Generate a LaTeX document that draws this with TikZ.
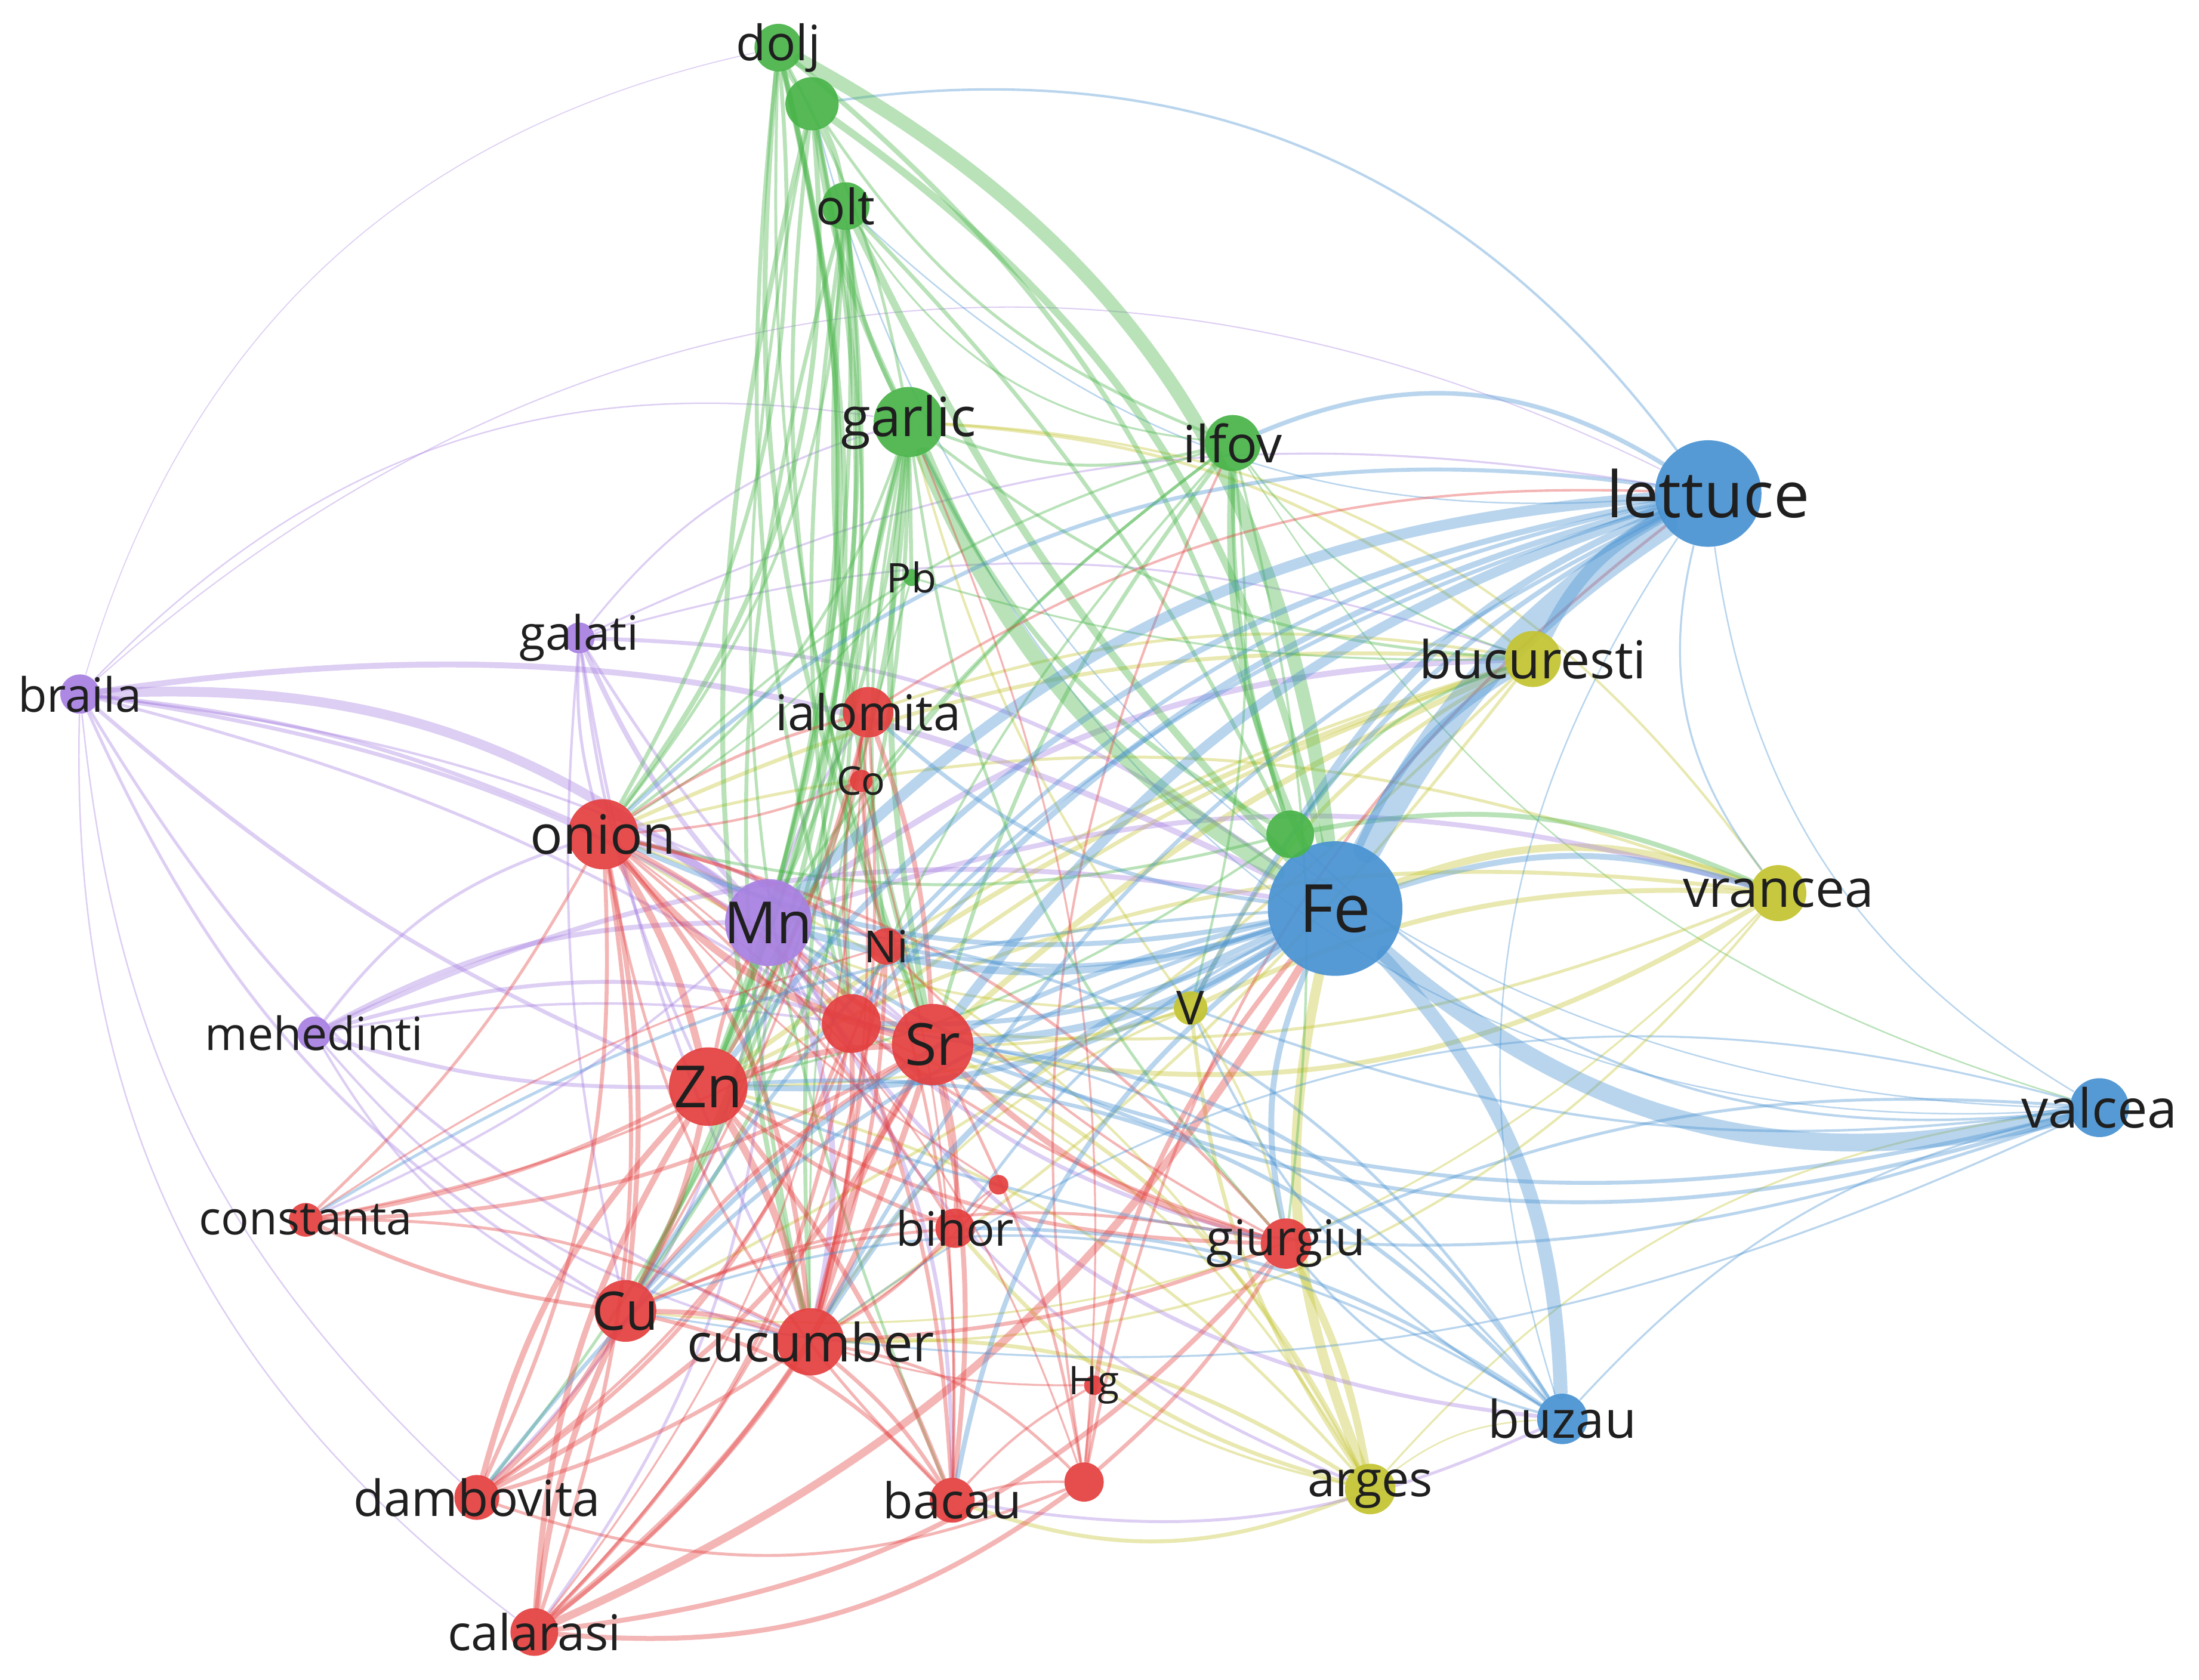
\documentclass[tikz,border=0pt]{standalone}
\usepackage{fontspec}
\setmainfont{Open Sans}
\usetikzlibrary{backgrounds}
\definecolor{vred}{RGB}{228,62,62}
\definecolor{vgreen}{RGB}{72,180,72}
\definecolor{vblue}{RGB}{72,146,210}
\definecolor{vyellow}{RGB}{196,196,48}
\definecolor{vpurple}{RGB}{168,128,226}
\newcommand{\fsz}[1]{\fontsize{#1}{#1}\selectfont}

\begin{document}
\begin{tikzpicture}[
    dot/.style={circle, inner sep=0pt, draw=none, fill opacity=0.92},
    lab/.style={inner sep=0pt, text=black!88, text opacity=1},
    link/.style={draw opacity=0.38, line cap=round}
]
    \def \bendScale {1.7}
    \useasboundingbox (0,0) rectangle (15.68,-11.98);
    \foreach \n/\x/\y/\d/\c in {
        lettuce/12.18/-3.52/7.6/vblue, Fe/9.52/-6.48/9.6/vblue,
        valcea/14.97/-7.90/4.2/vblue, buzau/11.14/-10.12/3.6/vblue,
        bucuresti/10.93/-4.70/4.0/vyellow, vrancea/12.68/-6.37/4.0/vyellow,
        V/8.49/-7.19/2.4/vyellow, arges/9.77/-10.62/3.6/vyellow,
        dolj/5.55/-0.34/3.4/vgreen, doljB/5.79/-0.74/3.8/vgreen,
        olt/6.03/-1.47/3.4/vgreen, garlic/6.48/-3.01/5.0/vgreen,
        ilfov/8.79/-3.16/4.0/vgreen, Pb/6.50/-4.12/1.2/vgreen,
        gX/9.20/-5.95/3.4/vgreen,
        galati/4.13/-4.55/2.2/vpurple, braila/0.57/-4.95/2.8/vpurple,
        Mn/5.48/-6.58/6.2/vpurple, mehedinti/2.24/-7.37/2.4/vpurple,
        ialomita/6.19/-5.08/3.6/vred, Co/6.14/-5.57/1.6/vred,
        onion/4.30/-5.95/5.0/vred, Ni/6.32/-6.75/2.6/vred,
        rX/6.07/-7.30/4.2/vred, Sr/6.65/-7.45/5.8/vred,
        Zn/5.05/-7.75/5.6/vred, rS/7.12/-8.45/1.4/vred,
        constanta/2.18/-8.70/2.4/vred, bihor/6.81/-8.76/2.8/vred,
        giurgiu/9.17/-8.87/3.6/vred, Cu/4.46/-9.35/4.4/vred,
        cucumber/5.78/-9.57/4.8/vred, Hg/7.80/-9.88/1.4/vred,
        dambovita/3.40/-10.68/3.2/vred, bacau/6.79/-10.70/3.2/vred,
        rH/7.73/-10.57/2.8/vred, calarasi/3.81/-11.64/3.4/vred}
        \node[dot, fill=\c, minimum size=\d mm] (\n) at (\x,\y) {};
    \foreach \n/\s/\t in {
        lettuce/13/lettuce, Fe/13.5/Fe, valcea/10.9/valcea, buzau/10.5/buzau,
        bucuresti/10.6/bucuresti, vrancea/10.6/vrancea, V/9.5/V, arges/10/arges,
        dolj/9.9/dolj, olt/9.9/olt, garlic/11/garlic, ilfov/10.4/ilfov,
        Pb/8.3/Pb, galati/9.6/galati, braila/9.6/braila, Mn/11.8/Mn,
        mehedinti/9.3/mehedinti, ialomita/10/ialomita, Co/8/Co, onion/11/onion,
        Ni/9/Ni, Sr/11.8/Sr, Zn/11.8/Zn, constanta/9.4/constanta, bihor/9.6/bihor,
        giurgiu/10/giurgiu, Cu/10.8/Cu, cucumber/10.7/cucumber, Hg/8/Hg,
        dambovita/10.1/dambovita, bacau/10/bacau, calarasi/10/calarasi}
        \node[lab, font=\fsz{\s}] (\n-t) at (\n) {\t};
    \begin{scope}[on background layer]
    \fill[white] (0,0) rectangle (15.68,-11.98);
    \foreach \a/\b/\w/\c/\d in {
        braila/lettuce/0.25/vpurple/20, braila/dolj/0.2/vpurple/18, braila/garlic/0.3/vpurple/16,
        doljB/lettuce/0.5/vblue/18, valcea/doljB/0.3/vblue/22, valcea/garlic/0.3/vblue/20,
        lettuce/olt/0.3/vblue/14, ilfov/valcea/0.3/vgreen/-12, lettuce/valcea/0.3/vblue/-15,
        braila/calarasi/0.3/vpurple/-16, braila/dambovita/0.3/vpurple/-12, arges/buzau/0.3/vyellow/10,
        Fe/arges/2/vyellow/-10, giurgiu/arges/1.5/vyellow/5, V/vrancea/1/vyellow/8,
        V/bucuresti/0.8/vyellow/10, V/arges/0.8/vyellow/-8, V/giurgiu/0.5/vyellow/6,
        V/Sr/0.6/vyellow/5, V/Zn/0.5/vyellow/5, V/onion/0.5/vyellow/10,
        V/cucumber/0.5/vyellow/-10, V/garlic/0.5/vyellow/6, vrancea/Fe/1.5/vyellow/-12,
        vrancea/Sr/1/vyellow/12, vrancea/Zn/0.8/vyellow/-10, vrancea/onion/0.6/vyellow/-10,
        vrancea/rX/0.6/vyellow/8, vrancea/cucumber/0.5/vyellow/15, vrancea/garlic/0.5/vyellow/-15,
        vrancea/Cu/0.4/vyellow/15, bucuresti/Sr/1.2/vyellow/-5, bucuresti/Zn/1/vyellow/-5,
        bucuresti/onion/0.8/vyellow/-8, bucuresti/rX/0.8/vyellow/-5, bucuresti/garlic/0.6/vyellow/-10,
        bucuresti/cucumber/0.6/vyellow/5, bucuresti/Cu/0.6/vyellow/5, bucuresti/ialomita/0.6/vyellow/-8,
        bucuresti/Ni/0.6/vyellow/-4, arges/Sr/0.8/vyellow/-10, arges/Zn/0.6/vyellow/-10,
        arges/cucumber/0.8/vyellow/-10, arges/onion/0.5/vyellow/-12, arges/rX/0.5/vyellow/-10,
        arges/bacau/0.8/vyellow/12, arges/Hg/0.5/vyellow/5, arges/bihor/0.8/vyellow/10,
        arges/valcea/0.4/vyellow/12,
        braila/Mn/2/vpurple/12, braila/Fe/1.2/vpurple/10, braila/Sr/0.8/vpurple/8,
        braila/Zn/0.8/vpurple/-5, braila/onion/0.8/vpurple/5, braila/rX/0.6/vpurple/5,
        braila/Cu/0.6/vpurple/-10, braila/cucumber/0.6/vpurple/-10, braila/Ni/0.5/vpurple/6,
        galati/Mn/1/vpurple/-5, galati/Fe/0.8/vpurple/10, galati/Sr/0.6/vpurple/-5,
        galati/Zn/0.6/vpurple/-5, galati/onion/0.6/vpurple/-5, galati/Cu/0.5/vpurple/-5,
        galati/cucumber/0.6/vpurple/-5, galati/lettuce/0.4/vpurple/10, galati/garlic/0.4/vpurple/10,
        galati/bucuresti/0.4/vpurple/10, mehedinti/Mn/1/vpurple/8, mehedinti/Fe/1/vpurple/10,
        mehedinti/Sr/0.8/vpurple/10, mehedinti/Zn/0.8/vpurple/-5, mehedinti/onion/0.6/vpurple/10,
        mehedinti/Cu/0.5/vpurple/-10, mehedinti/rX/0.5/vpurple/5, mehedinti/cucumber/0.5/vpurple/-10,
        Mn/bucuresti/1.2/vpurple/10, Mn/vrancea/1/vpurple/10, Mn/buzau/0.8/vpurple/-15,
        Mn/giurgiu/0.8/vpurple/-10, Mn/arges/0.6/vpurple/-12, Mn/onion/1.5/vpurple/-8,
        Mn/cucumber/1.2/vpurple/10, Mn/calarasi/0.6/vpurple/10, Mn/dambovita/0.6/vpurple/10,
        Mn/bacau/0.8/vpurple/10, Mn/ialomita/0.6/vpurple/5, Mn/constanta/0.5/vpurple/5,
        buzau/bacau/0.6/vpurple/10,
        dolj/Fe/2.8/vgreen/16, doljB/Fe/1.5/vgreen/12, garlic/Fe/3.2/vgreen/-10,
        olt/Fe/1.5/vgreen/-5, ilfov/Fe/1.5/vgreen/-8, garlic/gX/1/vgreen/-10,
        dolj/gX/1/vgreen/10, olt/gX/0.8/vgreen/5, ilfov/gX/0.8/vgreen/-5,
        gX/vrancea/1/vgreen/10, gX/bucuresti/0.6/vgreen/10, gX/onion/0.6/vgreen/8,
        gX/Zn/0.5/vgreen/6, dolj/Sr/1/vgreen/-8, dolj/Zn/1.2/vgreen/10,
        dolj/Cu/1/vgreen/12, dolj/Mn/0.8/vgreen/8, dolj/rX/0.8/vgreen/-6,
        dolj/onion/0.8/vgreen/10, dolj/Ni/0.6/vgreen/-5, dolj/garlic/0.6/vgreen/5,
        doljB/garlic/1.2/vgreen/-5, doljB/olt/1/vgreen/5, doljB/dolj/0.8/vgreen/5,
        doljB/onion/1/vgreen/12, doljB/cucumber/1/vgreen/-8, doljB/Zn/0.8/vgreen/10,
        doljB/dambovita/0.6/vgreen/15, doljB/ilfov/0.6/vgreen/-10, doljB/Sr/0.8/vgreen/-8,
        doljB/bacau/0.6/vgreen/-10, olt/Sr/1.2/vgreen/-6, olt/Zn/1/vgreen/8,
        olt/Mn/0.8/vgreen/5, olt/Cu/0.8/vgreen/10, olt/garlic/0.8/vgreen/-6,
        olt/onion/0.6/vgreen/10, olt/rX/0.8/vgreen/-5, olt/cucumber/0.8/vgreen/-8,
        olt/ilfov/0.4/vgreen/-15, garlic/Sr/1.2/vgreen/-5, garlic/Zn/1/vgreen/8,
        garlic/Mn/0.8/vgreen/5, garlic/Cu/0.8/vgreen/10, garlic/onion/0.6/vgreen/10,
        garlic/rX/0.8/vgreen/-5, garlic/Ni/0.6/vgreen/-5, garlic/ialomita/0.6/vgreen/-5,
        garlic/Pb/0.8/vgreen/0, garlic/bucuresti/0.6/vgreen/-10, garlic/ilfov/0.6/vgreen/-10,
        garlic/cucumber/0.8/vgreen/-5, garlic/giurgiu/0.6/vgreen/-10, ilfov/Sr/0.8/vgreen/-6,
        ilfov/Zn/0.6/vgreen/-8, ilfov/Mn/0.6/vgreen/-5, ilfov/onion/0.5/vgreen/-8,
        ilfov/rX/0.5/vgreen/-5, ilfov/V/0.5/vgreen/6, ilfov/giurgiu/0.5/vgreen/6,
        ilfov/bucuresti/0.4/vgreen/-10, Pb/onion/0.4/vgreen/5, Pb/cucumber/0.4/vgreen/-5,
        Pb/bucuresti/0.4/vgreen/-5, ilfov/lettuce/0.9/vblue/16,
        Zn/onion/1.5/vred/-5, Zn/cucumber/1.5/vred/5, Zn/Cu/1.2/vred/5,
        Zn/Sr/1.2/vred/5, Zn/calarasi/1.2/vred/-8, Zn/dambovita/1.2/vred/-8,
        Zn/constanta/0.8/vred/5, Zn/bacau/1/vred/5, Zn/giurgiu/0.8/vred/-8,
        Zn/bihor/0.8/vred/-5, Zn/ialomita/0.8/vred/-5, Zn/Mn/0.8/vred/5,
        Sr/onion/1.5/vred/10, Sr/cucumber/1.5/vred/-5, Sr/calarasi/1.2/vred/10,
        Sr/dambovita/1/vred/10, Sr/bacau/1/vred/5, Sr/giurgiu/1.2/vred/-8,
        Sr/bihor/0.8/vred/5, Sr/ialomita/1/vred/-5, Sr/constanta/0.8/vred/8,
        Sr/Cu/0.8/vred/-5, Sr/Mn/1/vred/5, Sr/rH/0.6/vred/5,
        Cu/onion/1/vred/-5, Cu/cucumber/1/vred/5, Cu/dambovita/1.2/vred/5,
        Cu/calarasi/1.2/vred/-5, Cu/constanta/0.8/vred/5, Cu/bacau/0.8/vred/10,
        Cu/giurgiu/0.6/vred/10, Cu/ialomita/0.5/vred/-5, Cu/bihor/0.6/vred/5,
        rX/onion/1/vred/-5, rX/cucumber/1/vred/5, rX/calarasi/0.8/vred/10,
        rX/dambovita/0.8/vred/10, rX/bacau/0.8/vred/5, rX/ialomita/0.6/vred/5,
        rX/giurgiu/0.6/vred/-5, rX/constanta/0.5/vred/5, Ni/onion/0.8/vred/-5,
        Ni/cucumber/0.8/vred/5, Ni/calarasi/0.6/vred/10, Ni/dambovita/0.6/vred/10,
        Ni/bacau/0.6/vred/5, Ni/ialomita/0.6/vred/5, Ni/giurgiu/0.5/vred/-5,
        Co/onion/0.5/vred/5, Co/cucumber/0.5/vred/5, Co/ialomita/0.5/vred/5,
        Co/calarasi/0.4/vred/10, Co/bacau/0.4/vred/5, calarasi/Fe/1.6/vred/-10,
        calarasi/rH/1/vred/-12, calarasi/giurgiu/1/vred/-12, calarasi/onion/0.8/vred/-8,
        calarasi/cucumber/0.8/vred/-5, dambovita/onion/0.8/vred/-8, dambovita/cucumber/0.8/vred/-5,
        dambovita/rH/0.6/vred/-12, constanta/onion/0.6/vred/-5, constanta/cucumber/0.6/vred/8,
        constanta/Ni/0.4/vred/5, bacau/onion/0.6/vred/10, bacau/cucumber/0.8/vred/-5,
        bacau/rH/0.5/vred/5, bacau/Hg/0.5/vred/5, giurgiu/onion/0.6/vred/-10,
        giurgiu/cucumber/0.8/vred/5, giurgiu/rH/0.8/vred/5, bihor/onion/0.6/vred/-5,
        bihor/cucumber/0.6/vred/5, bihor/rS/0.4/vred/5, rH/cucumber/0.6/vred/-10,
        rH/onion/0.4/vred/-10, rH/garlic/0.4/vred/-8, rH/Fe/1/vred/10,
        rH/ilfov/0.5/vred/10, rH/lettuce/0.6/vred/12, Hg/cucumber/0.4/vred/5,
        rS/cucumber/0.4/vred/5, rS/onion/0.4/vred/5, ialomita/onion/0.6/vred/-5,
        ialomita/cucumber/0.6/vred/5, ialomita/lettuce/0.5/vred/10, onion/cucumber/1/vred/10,
        lettuce/Fe/5.8/vblue/-8, lettuce/bucuresti/2.5/vblue/-10, lettuce/Mn/2.2/vblue/-12,
        lettuce/Sr/2/vblue/-10, lettuce/Zn/1.2/vblue/-12, lettuce/rX/1.2/vblue/-10,
        lettuce/V/1/vblue/-10, lettuce/gX/1.4/vblue/-10, lettuce/Ni/0.8/vblue/-10,
        lettuce/Cu/0.8/vblue/-12, lettuce/onion/0.8/vblue/-15, lettuce/cucumber/0.8/vblue/-10,
        lettuce/vrancea/0.4/vblue/-15, Fe/valcea/3.6/vblue/-16, Fe/buzau/2.8/vblue/12,
        Fe/bucuresti/1.5/vblue/10, Fe/vrancea/1.2/vblue/10, Fe/giurgiu/1.2/vblue/-10,
        Fe/Mn/1.5/vblue/10, Fe/Sr/1.5/vblue/8, Fe/Zn/1.2/vblue/10,
        Fe/onion/1/vblue/10, Fe/rX/1/vblue/8, Fe/Ni/0.8/vblue/8,
        Fe/Cu/1/vblue/-10, Fe/cucumber/1.2/vblue/-10, Fe/bacau/1/vblue/-12,
        Fe/dambovita/0.8/vblue/-10, Fe/ialomita/0.8/vblue/10, Fe/constanta/0.6/vblue/-8,
        Fe/bihor/0.6/vblue/-8, valcea/Sr/0.8/vblue/10, valcea/Zn/0.6/vblue/12,
        valcea/Mn/0.8/vblue/15, valcea/V/0.5/vblue/8, valcea/gX/0.5/vblue/15,
        valcea/giurgiu/0.6/vblue/-8, valcea/Cu/0.4/vblue/10, valcea/cucumber/0.4/vblue/-15,
        valcea/buzau/0.4/vblue/-10, buzau/Sr/0.8/vblue/-15, buzau/Zn/0.8/vblue/-15,
        buzau/Mn/0.6/vblue/-15, buzau/rX/0.5/vblue/-12, buzau/giurgiu/0.5/vblue/10,
        buzau/Cu/0.5/vblue/-15, buzau/lettuce/0.3/vblue/15, buzau/V/0.5/vblue/10,
        buzau/bihor/0.7/vblue/-10}
        {
        \pgfmathsetmacro{\bendAngle}{\bendScale*\d}
        \draw[link, draw=\c, line width=\w pt] (\a) to[bend left=\bendAngle] (\b);
        }
    \end{scope}
\end{tikzpicture}
\end{document}
